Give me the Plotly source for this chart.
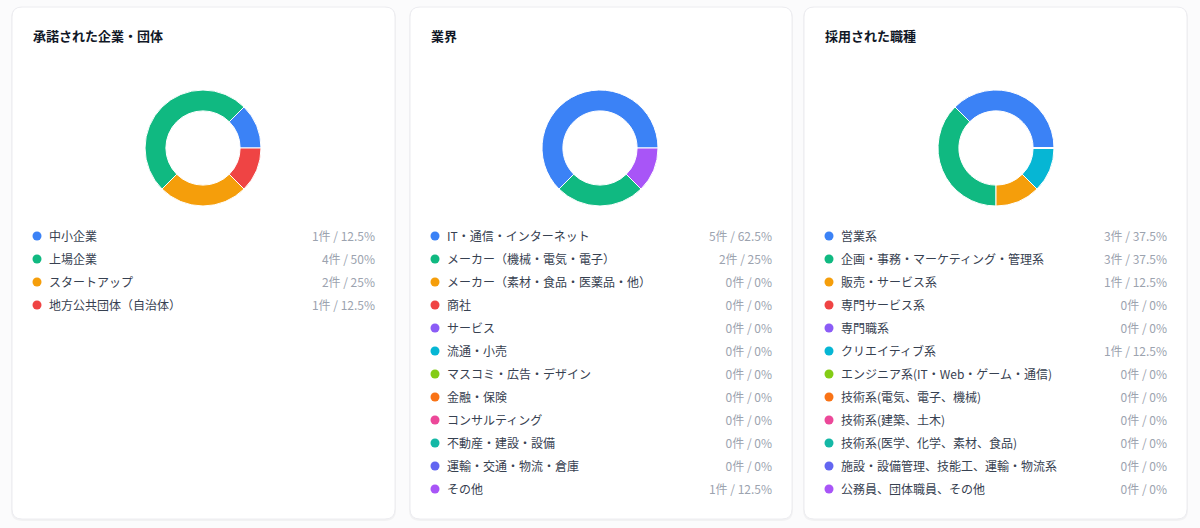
import plotly.graph_objects as go

W, H = 1200, 528

# ---------------- data ----------------
titles = ["承諾された企業・団体", "業界", "採用された職種"]

cat1 = ["中小企業", "上場企業", "スタートアップ", "地方公共団体（自治体）"]
val1 = [1, 4, 2, 1]

cat2 = ["IT・通信・インターネット", "メーカー（機械・電気・電子）", "メーカー（素材・食品・医薬品・他）",
        "商社", "サービス", "流通・小売", "マスコミ・広告・デザイン", "金融・保険",
        "コンサルティング", "不動産・建設・設備", "運輸・交通・物流・倉庫", "その他"]
val2 = [5, 2, 0, 0, 0, 0, 0, 0, 0, 0, 0, 1]

cat3 = ["営業系", "企画・事務・マーケティング・管理系", "販売・サービス系", "専門サービス系",
        "専門職系", "クリエイティブ系", "エンジニア系(IT・Web・ゲーム・通信)", "技術系(電気、電子、機械)",
        "技術系(建築、土木)", "技術系(医学、化学、素材、食品)", "施設・設備管理、技能工、運輸・物流系",
        "公務員、団体職員、その他"]
val3 = [3, 3, 1, 0, 0, 1, 0, 0, 0, 0, 0, 0]

palette = ["#3b82f6", "#10b981", "#f59e0b", "#ef4444", "#8b5cf6", "#06b6d4",
           "#84cc16", "#f97316", "#ec4899", "#14b8a6", "#6366f1", "#a855f7"]

cats = [cat1, cat2, cat3]
vals = [val1, val2, val3]

# ---------------- layout params ----------------
cards = [(12, 395), (410, 792), (804, 1187)]
card_top, card_bot = 7, 519
donut_cx = [203, 600, 996]
donut_cy = 148
donut_r = 58
hole = 0.64
row_y0 = 237.5
row_dy = 23
FONT = "Noto Sans CJK JP, Noto Sans, sans-serif"


def fmt_pct(v, tot):
    p = v / tot * 100
    s = ("%.1f" % p).rstrip("0").rstrip(".")
    return f"{v}件 / {s}%"


fig = go.Figure()

shapes = []
def rrect(x0, y0, x1, y1, r):
    def P(x, y):
        return f"{x/W},{1 - y/H}"
    return (f"M {P(x0 + r, y0)} L {P(x1 - r, y0)} Q {P(x1, y0)} {P(x1, y0 + r)} "
            f"L {P(x1, y1 - r)} Q {P(x1, y1)} {P(x1 - r, y1)} L {P(x0 + r, y1)} "
            f"Q {P(x0, y1)} {P(x0, y1 - r)} L {P(x0, y0 + r)} Q {P(x0, y0)} {P(x0 + r, y0)} Z")

for (x0, x1) in cards:
    shapes.append(dict(type="path", xref="paper", yref="paper",
                       path=rrect(x0 - 1, card_top, x1 + 1, card_bot + 2, 11),
                       fillcolor="rgba(0,0,0,0.035)", line=dict(width=0), layer="below"))
    shapes.append(dict(type="path", xref="paper", yref="paper",
                       path=rrect(x0, card_top, x1, card_bot, 10),
                       fillcolor="#ffffff", line=dict(color="#ececf0", width=1), layer="below"))

annotations = []
for i in range(3):
    c, v = cats[i], vals[i]
    x0, x1 = cards[i]
    cx = donut_cx[i]
    tot = sum(v)
    # plotly's counterclockwise pies end the first slice at `rotation`;
    # shift so the first slice starts at 3 o'clock and runs counterclockwise
    rot = 90 - 360 * v[0] / tot
    fig.add_trace(go.Pie(
        labels=c, values=v, hole=hole, sort=False, direction="counterclockwise",
        rotation=rot, textinfo="none", hoverinfo="label+value+percent",
        marker=dict(colors=palette[:len(c)], line=dict(color="#ffffff", width=1)),
        domain=dict(x=[(cx - donut_r) / W, (cx + donut_r) / W],
                    y=[1 - (donut_cy + donut_r) / H, 1 - (donut_cy - donut_r) / H]),
        showlegend=False,
    ))
    annotations.append(dict(text=f"<b>{titles[i]}</b>", x=(x0 + 19) / W, y=1 - 36 / H,
                            xref="paper", yref="paper", xanchor="left", yanchor="middle",
                            showarrow=False, font=dict(size=13, color="#111827", family=FONT)))
    ys = [row_y0 + k * row_dy for k in range(len(c))]
    fig.add_trace(go.Scatter(
        x=[x0 + 25] * len(c), y=[y - 1.5 for y in ys], mode="markers",
        marker=dict(size=9, color=palette[:len(c)]),
        hoverinfo="skip", showlegend=False, xaxis="x", yaxis="y",
    ))
    fig.add_trace(go.Scatter(
        x=[x0 + 37] * len(c), y=ys, mode="text",
        text=c, textposition="middle right",
        textfont=dict(size=12, color="#374151", family=FONT),
        hoverinfo="skip", showlegend=False, xaxis="x", yaxis="y",
    ))
    fig.add_trace(go.Scatter(
        x=[x1 - 20] * len(c), y=ys, mode="text",
        text=[fmt_pct(a, tot) for a in v], textposition="middle left",
        textfont=dict(size=12, color="#9ca3af", family=FONT),
        hoverinfo="skip", showlegend=False, xaxis="x", yaxis="y",
    ))

fig.update_layout(
    width=W, height=H, margin=dict(l=0, r=0, t=0, b=0),
    paper_bgcolor="#fbfbfc", plot_bgcolor="rgba(0,0,0,0)",
    shapes=shapes, annotations=annotations,
    xaxis=dict(range=[0, W], visible=False, domain=[0, 1], fixedrange=True),
    yaxis=dict(range=[H, 0], visible=False, domain=[0, 1], fixedrange=True),
    font=dict(family=FONT),
)

fig.write_html("out.html", config={"displayModeBar": False})
